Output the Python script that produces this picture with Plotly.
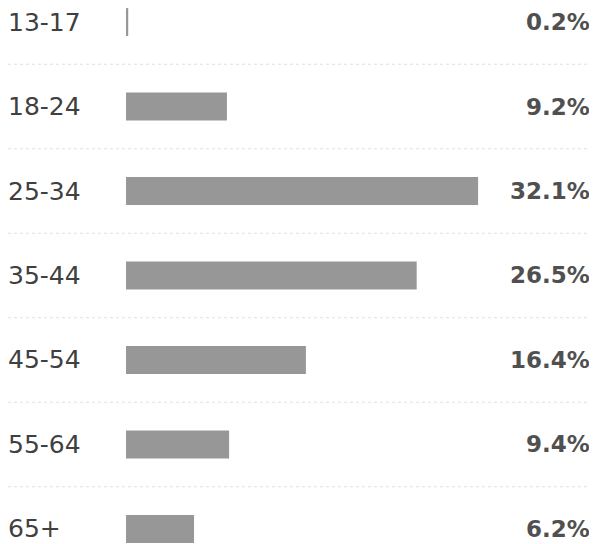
import plotly.graph_objects as go

age_groups = ["13-17", "18-24", "25-34", "35-44", "45-54", "55-64", "65+"]
shares = [0.2, 9.2, 32.1, 26.5, 16.4, 9.4, 6.2]
share_labels = ["0.2%", "9.2%", "32.1%", "26.5%", "16.4%", "9.4%", "6.2%"]

fig = go.Figure()
fig.add_trace(go.Bar(
    x=shares, y=age_groups, orientation="h",
    marker=dict(color="#979797", line=dict(width=0)),
    width=0.33, hoverinfo="skip",
))

for i, (g, lab) in enumerate(zip(age_groups, share_labels)):
    fig.add_annotation(x=0, xref="paper", y=g, yref="y", text=g, showarrow=False,
                       xanchor="left", xshift=-2,
                       font=dict(family="DejaVu Sans", size=25, color="#404040"))
    fig.add_annotation(x=1, xref="paper", y=g, yref="y", text="<b>" + lab + "</b>", showarrow=False,
                       xanchor="right", xshift=-5,
                       font=dict(family="DejaVu Sans", size=23, color="#505050"))

for i in range(len(age_groups) - 1):
    fig.add_shape(type="line", xref="paper", x0=0, x1=1, yref="y", y0=i + 0.5, y1=i + 0.5,
                  line=dict(color="#e0e0e0", width=1, dash="dot"))

fig.update_layout(
    width=589, height=536,
    margin=dict(l=0, r=0, t=0, b=0),
    paper_bgcolor="white", plot_bgcolor="white",
    showlegend=False,
    xaxis=dict(range=[-10.76, 42.94], visible=False, fixedrange=True),
    yaxis=dict(type="category", range=[6.178, -0.166], visible=False, fixedrange=True),
)

fig.write_html("out.html")
